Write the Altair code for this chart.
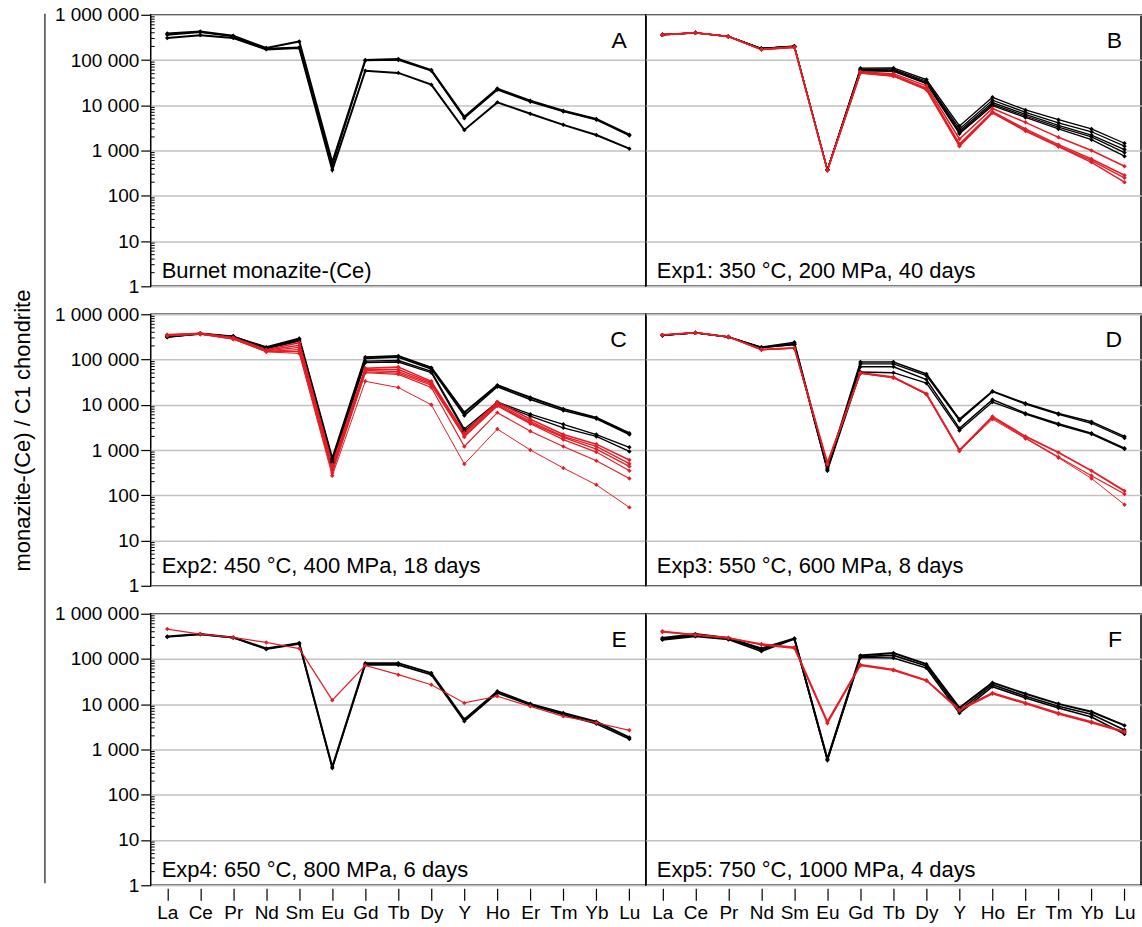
import altair as alt
import pandas as pd

ELEMENTS = ["La", "Ce", "Pr", "Nd", "Sm", "Eu", "Gd", "Tb", "Dy", "Y", "Ho", "Er", "Tm", "Yb", "Lu"]
Y_TICKS = [1, 10, 100, 1000, 10000, 100000, 1000000]

# Panel A: Burnet monazite-(Ce)
A_k1 = [386e3, 428e3, 344e3, 184e3, 257e3, 550, 100e3, 105e3, 60e3, 5.6e3, 23.4e3, 12.6e3, 7.6e3, 5.0e3, 2.25e3]
A_k2 = [360e3, 410e3, 330e3, 180e3, 190e3, 470, 98e3, 100e3, 58e3, 5.2e3, 22e3, 12e3, 7.3e3, 4.8e3, 2.15e3]
A_k3 = [306e3, 355e3, 306e3, 172e3, 184e3, 370, 58e3, 52e3, 28.6e3, 2.86e3, 11.6e3, 6.5e3, 3.7e3, 2.2e3, 1.1e3]

# Panel B: Exp1
B_k1 = [363e3, 400e3, 333e3, 180e3, 205e3, 380, 66e3, 67e3, 37e3, 3.5e3, 15e3, 7.9e3, 4.8e3, 3.0e3, 1.45e3]
B_k2 = [363e3, 400e3, 333e3, 180e3, 200e3, 375, 63e3, 63e3, 34e3, 3.0e3, 13e3, 7.0e3, 4.1e3, 2.6e3, 1.25e3]
B_k3 = [363e3, 400e3, 333e3, 180e3, 200e3, 375, 61e3, 60e3, 32e3, 2.7e3, 11.5e3, 6.3e3, 3.6e3, 2.2e3, 1.05e3]
B_k4 = [363e3, 400e3, 333e3, 180e3, 200e3, 375, 60e3, 58e3, 31e3, 2.5e3, 10.5e3, 5.8e3, 3.3e3, 2.0e3, 900]
B_k5 = [363e3, 400e3, 333e3, 180e3, 200e3, 375, 58e3, 56e3, 30e3, 2.35e3, 9.8e3, 5.4e3, 3.0e3, 1.74e3, 750]
B_r1 = [363e3, 400e3, 333e3, 172e3, 195e3, 370, 55e3, 50e3, 27e3, 1.8e3, 8.5e3, 4.2e3, 1.96e3, 1.0e3, 450]
B_r2 = [360e3, 400e3, 330e3, 172e3, 195e3, 370, 53e3, 47e3, 24e3, 1.4e3, 7.2e3, 3.0e3, 1.35e3, 650, 285]
B_r3 = [360e3, 400e3, 330e3, 170e3, 192e3, 365, 52e3, 45e3, 23e3, 1.3e3, 6.9e3, 2.8e3, 1.25e3, 600, 250]
B_r4 = [358e3, 398e3, 330e3, 170e3, 190e3, 365, 52e3, 44e3, 22e3, 1.24e3, 6.8e3, 2.7e3, 1.23e3, 550, 200]

# Panel C: Exp2
C_k1 = [327e3, 370e3, 316e3, 187e3, 290e3, 650, 113e3, 120e3, 66e3, 6.7e3, 27e3, 14.5e3, 8.1e3, 5.2e3, 2.35e3]
C_k2 = [315e3, 365e3, 320e3, 182e3, 280e3, 600, 106e3, 112e3, 62e3, 5.8e3, 25e3, 13e3, 7.5e3, 4.9e3, 2.2e3]
C_k3 = [320e3, 380e3, 330e3, 178e3, 265e3, 560, 92e3, 95e3, 55e3, 2.9e3, 11.5e3, 6.2e3, 3.7e3, 2.2e3, 1.15e3]
C_k4 = [310e3, 372e3, 322e3, 172e3, 255e3, 520, 86e3, 88e3, 51e3, 2.6e3, 10.8e3, 5.6e3, 3.1e3, 2.0e3, 930]
C_r1 = [350e3, 380e3, 305e3, 165e3, 234e3, 480, 64e3, 68e3, 33e3, 2.4e3, 11.5e3, 4.8e3, 2.2e3, 1.35e3, 600]
C_r2 = [345e3, 378e3, 298e3, 160e3, 205e3, 430, 60e3, 60e3, 31e3, 2.2e3, 10.5e3, 4.3e3, 2.0e3, 1.2e3, 500]
C_r3 = [352e3, 372e3, 295e3, 155e3, 185e3, 390, 57e3, 54e3, 29e3, 2.05e3, 9.8e3, 4.0e3, 1.9e3, 1.05e3, 435]
C_r4 = [340e3, 368e3, 290e3, 152e3, 165e3, 350, 53e3, 50e3, 27e3, 1.95e3, 9.4e3, 3.8e3, 1.7e3, 900, 350]
C_r5 = [338e3, 365e3, 285e3, 150e3, 150e3, 310, 51e3, 47e3, 24e3, 1.2e3, 6.7e3, 2.6e3, 1.2e3, 580, 235]
C_r6 = [335e3, 362e3, 280e3, 148e3, 136e3, 270, 33e3, 24e3, 10e3, 490, 2.9e3, 1.0e3, 400, 170, 54]

# Panel D: Exp3
D_k1 = [344e3, 390e3, 316e3, 187e3, 240e3, 400, 88e3, 88e3, 48e3, 4.8e3, 20e3, 10.8e3, 6.4e3, 4.2e3, 2.0e3]
D_k2 = [340e3, 390e3, 316e3, 185e3, 225e3, 380, 80e3, 80e3, 44e3, 4.5e3, 19.5e3, 10.3e3, 6.1e3, 3.9e3, 1.85e3]
D_k3 = [342e3, 388e3, 316e3, 183e3, 214e3, 360, 69e3, 69e3, 36e3, 3.0e3, 13e3, 6.5e3, 3.8e3, 2.35e3, 1.1e3]
D_k4 = [340e3, 388e3, 314e3, 182e3, 214e3, 350, 53e3, 51e3, 30e3, 2.7e3, 11.5e3, 6.2e3, 3.6e3, 2.25e3, 1.05e3]
D_r1 = [350e3, 392e3, 318e3, 166e3, 180e3, 520, 51e3, 41e3, 17.5e3, 1.0e3, 5.5e3, 2.0e3, 880, 350, 125]
D_r2 = [348e3, 390e3, 316e3, 165e3, 178e3, 500, 50e3, 40e3, 17e3, 950, 5.2e3, 1.85e3, 700, 270, 107]
D_r3 = [346e3, 390e3, 316e3, 164e3, 176e3, 480, 49e3, 39e3, 17e3, 970, 4.8e3, 1.8e3, 675, 235, 62]

# Panel E: Exp4
E_k1 = [316e3, 355e3, 300e3, 170e3, 225e3, 410, 81e3, 81e3, 49e3, 4.6e3, 19.3e3, 10.2e3, 6.4e3, 4.1e3, 1.85e3]
E_k2 = [305e3, 350e3, 295e3, 165e3, 215e3, 390, 75e3, 74e3, 45e3, 4.2e3, 17.8e3, 9.6e3, 5.9e3, 3.7e3, 1.7e3]
E_r1 = [458e3, 355e3, 300e3, 232e3, 170e3, 12.3e3, 72e3, 45e3, 27e3, 10.7e3, 15e3, 9.0e3, 5.4e3, 3.9e3, 2.65e3]

# Panel F: Exp5
F_k1 = [290e3, 355e3, 290e3, 170e3, 285e3, 620, 120e3, 135e3, 77e3, 8.3e3, 30e3, 17e3, 10.2e3, 6.8e3, 3.4e3]
F_k2 = [275e3, 330e3, 280e3, 160e3, 280e3, 600, 113e3, 120e3, 70e3, 7.2e3, 27e3, 15e3, 9.0e3, 6.0e3, 2.7e3]
F_k3 = [265e3, 316e3, 270e3, 148e3, 275e3, 580, 108e3, 105e3, 63e3, 6.4e3, 24.5e3, 13.8e3, 8.3e3, 5.2e3, 2.2e3]
F_r1 = [408e3, 340e3, 290e3, 214e3, 180e3, 4.1e3, 75e3, 58e3, 34e3, 7.6e3, 17.8e3, 10.7e3, 6.4e3, 4.1e3, 2.5e3]
F_r2 = [395e3, 345e3, 295e3, 205e3, 172e3, 3.8e3, 72e3, 56e3, 33e3, 7.3e3, 17e3, 10.3e3, 6.1e3, 3.9e3, 2.4e3]

PANELS = [
    ("A", "Burnet monazite-(Ce)", [("black", 2.0, A_k1), ("black", 1.6, A_k2), ("black", 2.0, A_k3)]),
    ("B", "Exp1: 350 \u00b0C, 200 MPa, 40 days",
     [("black", 1.3, B_k1), ("black", 1.3, B_k2), ("black", 1.3, B_k3), ("black", 1.3, B_k4), ("black", 1.3, B_k5),
      ("red", 1.5, B_r1), ("red", 1.5, B_r2), ("red", 1.5, B_r3), ("red", 1.5, B_r4)]),
    ("C", "Exp2: 450 \u00b0C, 400 MPa, 18 days",
     [("black", 2.0, C_k1), ("black", 1.6, C_k2), ("black", 1.3, C_k3), ("black", 1.3, C_k4),
      ("red", 1.6, C_r1), ("red", 1.4, C_r2), ("red", 1.4, C_r3), ("red", 1.2, C_r4), ("red", 1.2, C_r5), ("red", 1.0, C_r6)]),
    ("D", "Exp3: 550 \u00b0C, 600 MPa, 8 days",
     [("black", 1.5, D_k1), ("black", 1.3, D_k2), ("black", 1.5, D_k3), ("black", 1.3, D_k4),
      ("red", 1.8, D_r1), ("red", 1.2, D_r2), ("red", 1.0, D_r3)]),
    ("E", "Exp4: 650 \u00b0C, 800 MPa, 6 days", [("black", 2.0, E_k1), ("black", 1.6, E_k2), ("red", 1.2, E_r1)]),
    ("F", "Exp5: 750 \u00b0C, 1000 MPa, 4 days",
     [("black", 2.0, F_k1), ("black", 1.6, F_k2), ("black", 1.6, F_k3), ("red", 1.8, F_r1), ("red", 1.4, F_r2)]),
]

MINOR = [m * 10 ** k for k in range(6) for m in range(2, 10)]

W, H = 496, 272
FONT = "Liberation Sans"
RED = "#e41e26"
SORTKEY = "indexof([" + ",".join('"%s"' % e for e in ELEMENTS) + "], datum.el)"

yscale = alt.Scale(type="log", domain=[1, 1000000], nice=False)


def build_panel(idx):
    letter, label, series = PANELS[idx]
    row, col = divmod(idx, 2)
    recs = []
    for s, (kind, w, vals) in enumerate(series):
        for el, v in zip(ELEMENTS, vals):
            recs.append({"el": el, "v": v, "kind": kind, "s": f"{letter}{s:02d}", "w": w})
    df = pd.DataFrame(recs)

    if row == 2:
        xaxis = alt.Axis(title=None, labels=True, ticks=True, tickSize=12, offset=3, domain=False, grid=False,
                         labelAngle=0, labelFont=FONT, labelFontSize=19, labelPadding=3,
                         tickColor="#000", tickWidth=1.2, labelColor="#000")
    else:
        xaxis = alt.Axis(title=None, labels=False, ticks=False, domain=False, grid=False)

    if col == 0:
        yaxis_kw = dict(values=Y_TICKS, labelExpr="join(split(format(datum.value, ','), ','), ' ')",
                        tickSize=10, tickColor="#000", tickWidth=1.2, labelFontSize=19, labelFont=FONT,
                        labelColor="#000", labelPadding=2, domain=False, grid=True,
                        gridColor="#c2c2c2", gridWidth=1.5)
        if row == 1:
            yaxis_kw.update(title="monazite-(Ce) / C1 chondrite", titleFont=FONT, titleFontSize=22,
                            titleFontWeight="normal", titleColor="#000", titleX=-128, titleY=116,
                            titleAngle=270, titleAlign="center", titleBaseline="middle")
        else:
            yaxis_kw.update(title=None)
        yaxis = alt.Axis(**yaxis_kw)
    else:
        yaxis = alt.Axis(values=Y_TICKS, title=None, labels=False, ticks=False, domain=False, grid=True,
                         gridColor="#c2c2c2", gridWidth=1.5)

    lines = alt.Chart(df).mark_line(
        point=alt.OverlayMarkDef(shape="diamond", size=20, filled=True)
    ).encode(
        x=alt.X("el:N", sort=ELEMENTS, scale=alt.Scale(domain=ELEMENTS, padding=0.5), axis=xaxis),
        y=alt.Y("v:Q", scale=yscale, axis=yaxis),
        color=alt.Color("kind:N", scale=alt.Scale(domain=["black", "red"], range=["#000000", RED]), legend=None),
        strokeWidth=alt.StrokeWidth("w:Q", scale=None, legend=None),
        detail="s:N",
        order=alt.Order("sortkey:Q"),
    ).transform_calculate(sortkey=SORTKEY)

    letter_txt = alt.Chart(pd.DataFrame({"t": [letter]})).mark_text(
        align="right", baseline="alphabetic", fontSize=23, font=FONT, color="#000"
    ).encode(text="t:N", x=alt.value(W - 19), y=alt.value(33))

    lab_off = 13 if row == 1 else 8.5
    label_txt = alt.Chart(pd.DataFrame({"t": [label]})).mark_text(
        align="left", baseline="alphabetic", fontSize=22, font=FONT, color="#000"
    ).encode(text="t:N", x=alt.value(11), y=alt.value(H - lab_off))

    layers = [lines, letter_txt, label_txt]
    if col == 0:
        minor = alt.Chart(pd.DataFrame({"v": MINOR})).mark_rule(color="#000", strokeWidth=1).encode(
            y=alt.Y("v:Q", scale=yscale, axis=yaxis), x=alt.value(0), x2=alt.value(4)
        )
        layers.insert(0, minor)
    if row == 1 and col == 0:
        bracket = alt.Chart(pd.DataFrame({"a": [0]})).mark_rule(color="#444", strokeWidth=1.5).encode(
            x=alt.value(44 - 150), y=alt.value(13 - 314), y2=alt.value(884 - 314)
        )
        layers.append(bracket)
    return alt.layer(*layers).properties(width=W, height=H)


panels = [build_panel(i) for i in range(6)]
chart = alt.concat(*panels, columns=2, spacing={"row": 28, "column": 0}, bounds="flush").properties(
    padding={"left": 11, "top": 4, "right": 0, "bottom": 0}
).configure(font=FONT).configure_view(stroke="#000000", strokeWidth=1.5)

chart.save("out.html", embed_options={"renderer": "svg", "actions": False})
